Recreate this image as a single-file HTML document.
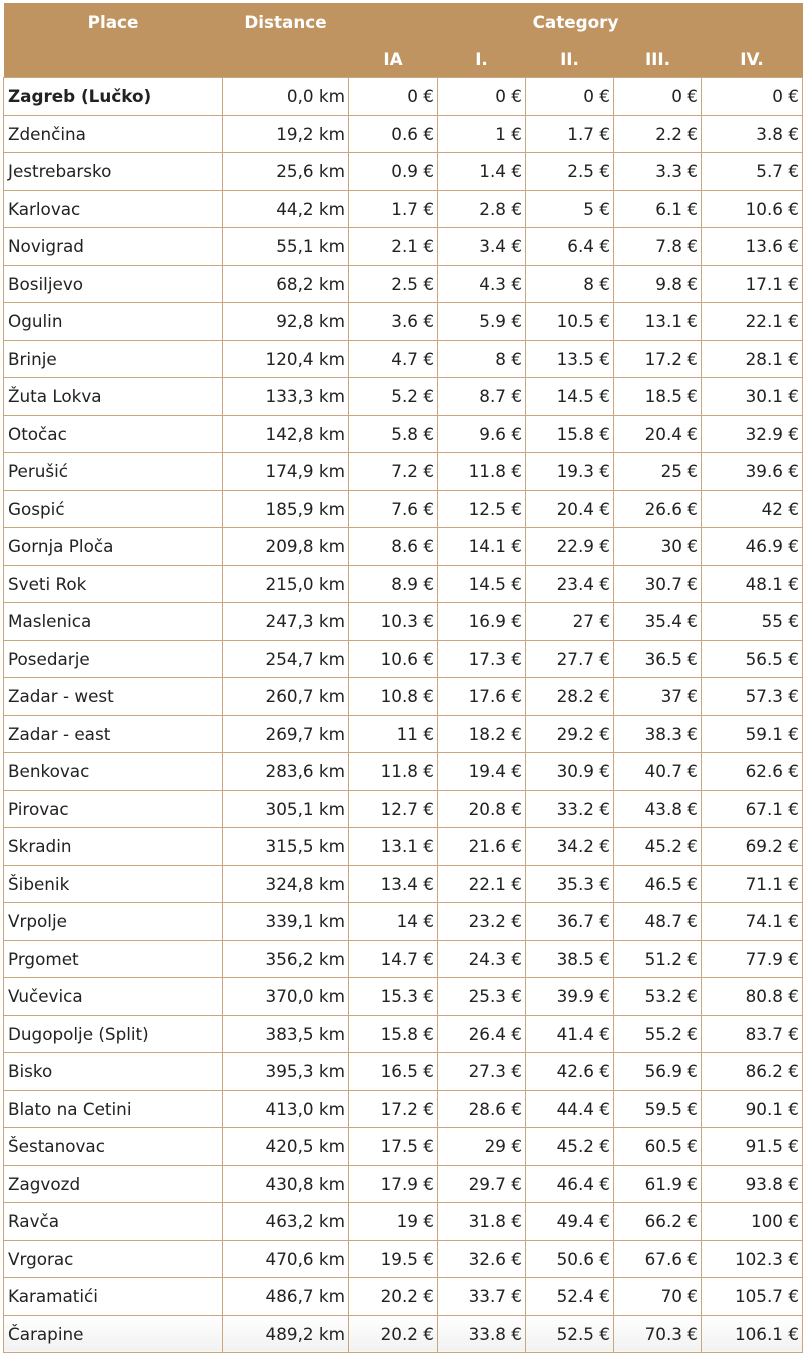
<!DOCTYPE html>
<html><head><meta charset="utf-8"><style>
body{margin:0;background:#fff;}
table{position:absolute;left:3px;top:3px;border-collapse:collapse;table-layout:fixed;font-family:"DejaVu Sans","Liberation Sans",sans-serif;font-size:16.8px;color:#222;}
th{background:#c09461;color:#fff;font-weight:bold;height:37px;padding:0;border:none;text-align:center;vertical-align:middle;line-height:18px;}
td{height:36.5px;border:1px solid #c9a67c;padding:0 3px 0 4px;text-align:right;white-space:nowrap;overflow:hidden;line-height:18px;}
td:first-child{text-align:left;}
tr.last td{background:linear-gradient(#fff,#f1f1f1);}
</style></head><body>
<table>
<colgroup><col style="width:219px"><col style="width:126px"><col style="width:89px"><col style="width:88px"><col style="width:88px"><col style="width:88px"><col style="width:101px"></colgroup>
<tr><th>Place</th><th>Distance</th><th colspan="5">Category</th></tr>
<tr><th></th><th></th><th>IA</th><th>I.</th><th>II.</th><th>III.</th><th>IV.</th></tr>
<tr><td><b>Zagreb (Lučko)</b></td><td>0,0 km</td><td>0 €</td><td>0 €</td><td>0 €</td><td>0 €</td><td>0 €</td></tr>
<tr><td>Zdenčina</td><td>19,2 km</td><td>0.6 €</td><td>1 €</td><td>1.7 €</td><td>2.2 €</td><td>3.8 €</td></tr>
<tr><td>Jestrebarsko</td><td>25,6 km</td><td>0.9 €</td><td>1.4 €</td><td>2.5 €</td><td>3.3 €</td><td>5.7 €</td></tr>
<tr><td>Karlovac</td><td>44,2 km</td><td>1.7 €</td><td>2.8 €</td><td>5 €</td><td>6.1 €</td><td>10.6 €</td></tr>
<tr><td>Novigrad</td><td>55,1 km</td><td>2.1 €</td><td>3.4 €</td><td>6.4 €</td><td>7.8 €</td><td>13.6 €</td></tr>
<tr><td>Bosiljevo</td><td>68,2 km</td><td>2.5 €</td><td>4.3 €</td><td>8 €</td><td>9.8 €</td><td>17.1 €</td></tr>
<tr><td>Ogulin</td><td>92,8 km</td><td>3.6 €</td><td>5.9 €</td><td>10.5 €</td><td>13.1 €</td><td>22.1 €</td></tr>
<tr><td>Brinje</td><td>120,4 km</td><td>4.7 €</td><td>8 €</td><td>13.5 €</td><td>17.2 €</td><td>28.1 €</td></tr>
<tr><td>Žuta Lokva</td><td>133,3 km</td><td>5.2 €</td><td>8.7 €</td><td>14.5 €</td><td>18.5 €</td><td>30.1 €</td></tr>
<tr><td>Otočac</td><td>142,8 km</td><td>5.8 €</td><td>9.6 €</td><td>15.8 €</td><td>20.4 €</td><td>32.9 €</td></tr>
<tr><td>Perušić</td><td>174,9 km</td><td>7.2 €</td><td>11.8 €</td><td>19.3 €</td><td>25 €</td><td>39.6 €</td></tr>
<tr><td>Gospić</td><td>185,9 km</td><td>7.6 €</td><td>12.5 €</td><td>20.4 €</td><td>26.6 €</td><td>42 €</td></tr>
<tr><td>Gornja Ploča</td><td>209,8 km</td><td>8.6 €</td><td>14.1 €</td><td>22.9 €</td><td>30 €</td><td>46.9 €</td></tr>
<tr><td>Sveti Rok</td><td>215,0 km</td><td>8.9 €</td><td>14.5 €</td><td>23.4 €</td><td>30.7 €</td><td>48.1 €</td></tr>
<tr><td>Maslenica</td><td>247,3 km</td><td>10.3 €</td><td>16.9 €</td><td>27 €</td><td>35.4 €</td><td>55 €</td></tr>
<tr><td>Posedarje</td><td>254,7 km</td><td>10.6 €</td><td>17.3 €</td><td>27.7 €</td><td>36.5 €</td><td>56.5 €</td></tr>
<tr><td>Zadar - west</td><td>260,7 km</td><td>10.8 €</td><td>17.6 €</td><td>28.2 €</td><td>37 €</td><td>57.3 €</td></tr>
<tr><td>Zadar - east</td><td>269,7 km</td><td>11 €</td><td>18.2 €</td><td>29.2 €</td><td>38.3 €</td><td>59.1 €</td></tr>
<tr><td>Benkovac</td><td>283,6 km</td><td>11.8 €</td><td>19.4 €</td><td>30.9 €</td><td>40.7 €</td><td>62.6 €</td></tr>
<tr><td>Pirovac</td><td>305,1 km</td><td>12.7 €</td><td>20.8 €</td><td>33.2 €</td><td>43.8 €</td><td>67.1 €</td></tr>
<tr><td>Skradin</td><td>315,5 km</td><td>13.1 €</td><td>21.6 €</td><td>34.2 €</td><td>45.2 €</td><td>69.2 €</td></tr>
<tr><td>Šibenik</td><td>324,8 km</td><td>13.4 €</td><td>22.1 €</td><td>35.3 €</td><td>46.5 €</td><td>71.1 €</td></tr>
<tr><td>Vrpolje</td><td>339,1 km</td><td>14 €</td><td>23.2 €</td><td>36.7 €</td><td>48.7 €</td><td>74.1 €</td></tr>
<tr><td>Prgomet</td><td>356,2 km</td><td>14.7 €</td><td>24.3 €</td><td>38.5 €</td><td>51.2 €</td><td>77.9 €</td></tr>
<tr><td>Vučevica</td><td>370,0 km</td><td>15.3 €</td><td>25.3 €</td><td>39.9 €</td><td>53.2 €</td><td>80.8 €</td></tr>
<tr><td>Dugopolje (Split)</td><td>383,5 km</td><td>15.8 €</td><td>26.4 €</td><td>41.4 €</td><td>55.2 €</td><td>83.7 €</td></tr>
<tr><td>Bisko</td><td>395,3 km</td><td>16.5 €</td><td>27.3 €</td><td>42.6 €</td><td>56.9 €</td><td>86.2 €</td></tr>
<tr><td>Blato na Cetini</td><td>413,0 km</td><td>17.2 €</td><td>28.6 €</td><td>44.4 €</td><td>59.5 €</td><td>90.1 €</td></tr>
<tr><td>Šestanovac</td><td>420,5 km</td><td>17.5 €</td><td>29 €</td><td>45.2 €</td><td>60.5 €</td><td>91.5 €</td></tr>
<tr><td>Zagvozd</td><td>430,8 km</td><td>17.9 €</td><td>29.7 €</td><td>46.4 €</td><td>61.9 €</td><td>93.8 €</td></tr>
<tr><td>Ravča</td><td>463,2 km</td><td>19 €</td><td>31.8 €</td><td>49.4 €</td><td>66.2 €</td><td>100 €</td></tr>
<tr><td>Vrgorac</td><td>470,6 km</td><td>19.5 €</td><td>32.6 €</td><td>50.6 €</td><td>67.6 €</td><td>102.3 €</td></tr>
<tr><td>Karamatići</td><td>486,7 km</td><td>20.2 €</td><td>33.7 €</td><td>52.4 €</td><td>70 €</td><td>105.7 €</td></tr>
<tr class="last"><td>Čarapine</td><td>489,2 km</td><td>20.2 €</td><td>33.8 €</td><td>52.5 €</td><td>70.3 €</td><td>106.1 €</td></tr>
</table>
</body></html>
